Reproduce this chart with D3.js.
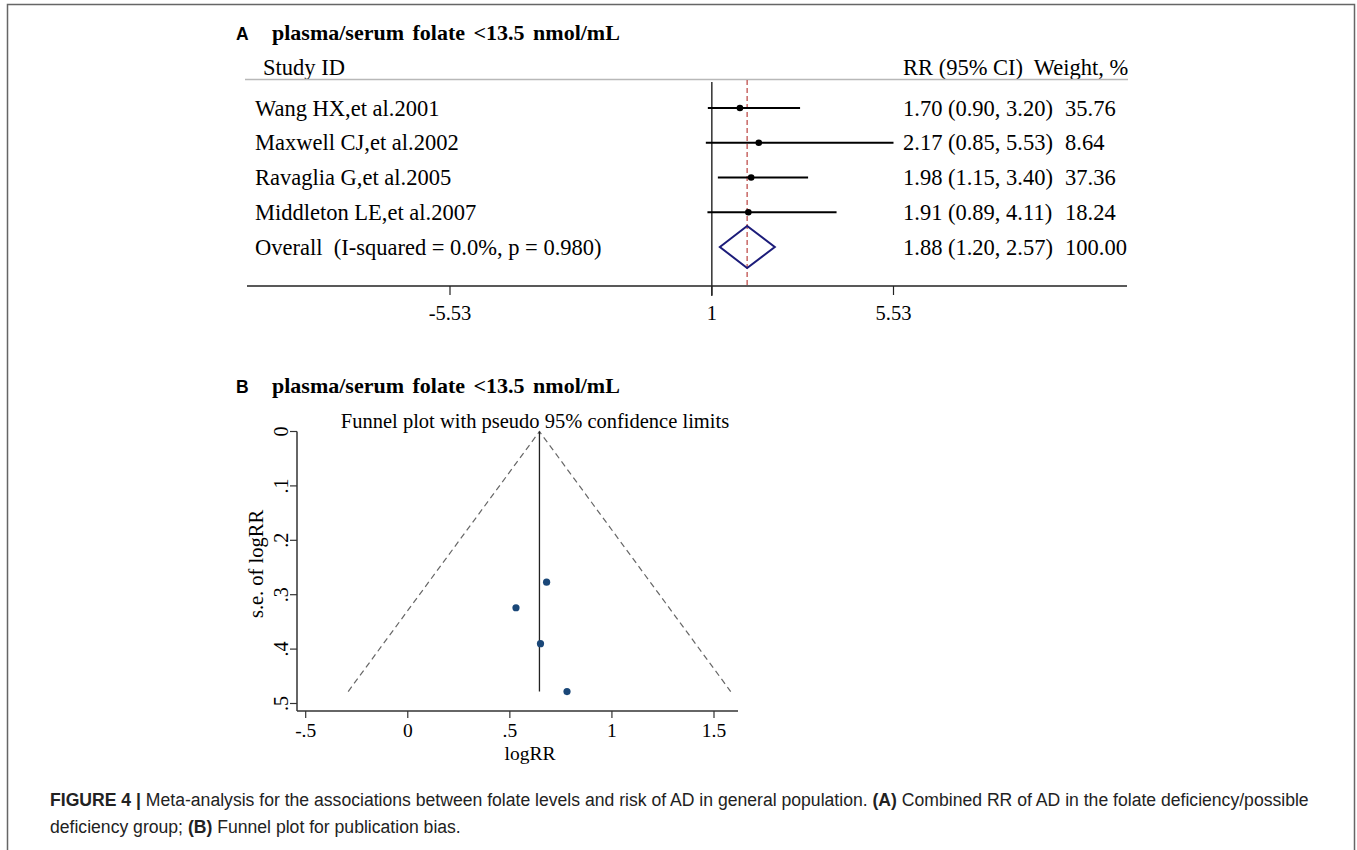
<!DOCTYPE html>
<html>
<head>
<meta charset="utf-8">
<script src="https://cdn.jsdelivr.net/npm/d3@7"></script>
<style>
  body { margin: 0; background: #fff; }
  svg text { white-space: pre; }
</style>
</head>
<body>
<script>
const width = 1357;
const height = 850;

const serif = "'Liberation Serif', 'Times New Roman', serif";
const sans = "'Liberation Sans', Arial, sans-serif";

// panel A: forest plot
const studies = ["Wang HX,et al.2001", "Maxwell CJ,et al.2002", "Ravaglia G,et al.2005", "Middleton LE,et al.2007"];
const rr = [1.70, 2.17, 1.98, 1.91];
const ciLow = [0.90, 0.85, 1.15, 0.89];
const ciHigh = [3.20, 5.53, 3.40, 4.11];
const weights = ["35.76", "8.64", "37.36", "18.24"];
const overallLabel = "Overall  (I-squared = 0.0%, p = 0.980)";
const overallRR = [1.88, 1.20, 2.57]; // estimate, low, high
const overallWeight = "100.00";
const forestTicks = [-5.53, 1, 5.53];

// panel B: funnel plot
const logRR = [0.53, 0.78, 0.68, 0.65];
const seLogRR = [0.324, 0.478, 0.277, 0.390];
const pooledLogRR = 0.645;
const funnelXTicks = [-0.5, 0, 0.5, 1, 1.5];
const funnelYTicks = [0, 0.1, 0.2, 0.3, 0.4, 0.5];

const svg = d3.select("body")
  .append("svg")
  .attr("width", width)
  .attr("height", height);

// frame
svg.append("rect")
  .attr("x", 7.5).attr("y", 4.5)
  .attr("width", 1347).attr("height", 900)
  .attr("fill", "none")
  .attr("stroke", "#666")
  .attr("stroke-width", 1.5);

// ---------- Panel A ----------
const fmt = d3.format(".2f");
const rowLabels = studies.concat([overallLabel]);
const rowY = d3.scalePoint()
  .domain(d3.range(rowLabels.length))
  .range([108, 247]);

const x = d3.scaleLinear()
  .domain([-5.53, 5.53])
  .range([450, 893.5]);

const axisLeft = 247, axisRight = 1127, axisY = 286;
const rowFont = 22.5;

svg.append("text")
  .attr("x", 236).attr("y", 40)
  .attr("font-family", sans).attr("font-weight", "bold").attr("font-size", 17.5)
  .text("A");
svg.append("text")
  .attr("x", 272).attr("y", 40)
  .attr("font-family", serif).attr("font-weight", "bold").attr("font-size", 22)
  .attr("word-spacing", 3)
  .text("plasma/serum folate <13.5 nmol/mL");

// header
svg.append("text")
  .attr("x", 263).attr("y", 75)
  .attr("font-family", serif).attr("font-size", rowFont)
  .text("Study ID");
svg.append("text")
  .attr("x", 903).attr("y", 75)
  .attr("font-family", serif).attr("font-size", rowFont)
  .text("RR (95% CI)  Weight, %");
svg.append("line")
  .attr("x1", axisLeft - 2).attr("x2", axisRight + 1)
  .attr("y1", 79.5).attr("y2", 79.5)
  .attr("stroke", "#b8b8b8").attr("stroke-width", 1.5);

// null line
svg.append("line")
  .attr("x1", x(1)).attr("x2", x(1))
  .attr("y1", 82).attr("y2", axisY + 10)
  .attr("stroke", "#111").attr("stroke-width", 1.3);

// overall dashed line
svg.append("line")
  .attr("x1", x(overallRR[0])).attr("x2", x(overallRR[0]))
  .attr("y1", 80).attr("y2", axisY)
  .attr("stroke", "#c0504d").attr("stroke-width", 1.3)
  .attr("stroke-dasharray", "5,3");

// confidence intervals
svg.selectAll(".ci")
  .data(studies)
  .enter()
  .append("line")
  .attr("class", "ci")
  .attr("x1", (d, i) => x(ciLow[i]))
  .attr("x2", (d, i) => x(ciHigh[i]))
  .attr("y1", (d, i) => rowY(i))
  .attr("y2", (d, i) => rowY(i))
  .attr("stroke", "#000")
  .attr("stroke-width", 2);

svg.selectAll(".pt")
  .data(studies)
  .enter()
  .append("circle")
  .attr("class", "pt")
  .attr("cx", (d, i) => x(rr[i]))
  .attr("cy", (d, i) => rowY(i))
  .attr("r", 3.3)
  .attr("fill", "#000");

// diamond
const dy = rowY(4);
svg.append("path")
  .attr("d", d3.line()([
    [x(overallRR[1]), dy],
    [x(overallRR[0]), dy - 21],
    [x(overallRR[2]), dy],
    [x(overallRR[0]), dy + 21]
  ]) + "Z")
  .attr("fill", "none")
  .attr("stroke", "#1c1c7a")
  .attr("stroke-width", 2);

// row labels
svg.selectAll(".rowlab")
  .data(rowLabels)
  .enter()
  .append("text")
  .attr("class", "rowlab")
  .attr("x", 255)
  .attr("y", (d, i) => rowY(i) + 7.5)
  .attr("font-family", serif).attr("font-size", rowFont)
  .text(d => d);

const rrText = rr.map((v, i) => fmt(v) + " (" + fmt(ciLow[i]) + ", " + fmt(ciHigh[i]) + ")")
  .concat([fmt(overallRR[0]) + " (" + fmt(overallRR[1]) + ", " + fmt(overallRR[2]) + ")"]);
const wText = weights.concat([overallWeight]);

svg.selectAll(".rrlab")
  .data(rrText)
  .enter()
  .append("text")
  .attr("class", "rrlab")
  .attr("x", 903)
  .attr("y", (d, i) => rowY(i) + 7.5)
  .attr("font-family", serif).attr("font-size", rowFont)
  .text(d => d);

svg.selectAll(".wlab")
  .data(wText)
  .enter()
  .append("text")
  .attr("class", "wlab")
  .attr("x", 1065)
  .attr("y", (d, i) => rowY(i) + 7.5)
  .attr("font-family", serif).attr("font-size", rowFont)
  .text(d => d);

// x axis
svg.append("line")
  .attr("x1", axisLeft).attr("x2", axisRight)
  .attr("y1", axisY).attr("y2", axisY)
  .attr("stroke", "#222").attr("stroke-width", 1.5);

svg.selectAll(".ftick")
  .data(forestTicks)
  .enter()
  .append("line")
  .attr("class", "ftick")
  .attr("x1", d => x(d)).attr("x2", d => x(d))
  .attr("y1", axisY).attr("y2", axisY + 9)
  .attr("stroke", "#222").attr("stroke-width", 1.2);

svg.selectAll(".flab")
  .data(forestTicks)
  .enter()
  .append("text")
  .attr("class", "flab")
  .attr("x", d => x(d))
  .attr("y", 320)
  .attr("text-anchor", "middle")
  .attr("font-family", serif).attr("font-size", 20.5)
  .text(d => d === 1 ? "1" : fmt(d).replace("\u2212", "-"));

// ---------- Panel B ----------
svg.append("text")
  .attr("x", 236).attr("y", 393)
  .attr("font-family", sans).attr("font-weight", "bold").attr("font-size", 17.5)
  .text("B");
svg.append("text")
  .attr("x", 272).attr("y", 393)
  .attr("font-family", serif).attr("font-weight", "bold").attr("font-size", 22)
  .attr("word-spacing", 3)
  .text("plasma/serum folate <13.5 nmol/mL");

const fx = d3.scaleLinear()
  .domain([-0.5, 1.5])
  .range([305.7, 714]);
const fy = d3.scaleLinear()
  .domain([0, 0.5])
  .range([431.5, 703.5]);

const plotLeft = 297, plotRight = 738, plotBottom = 711;

svg.append("text")
  .attr("x", 535).attr("y", 428)
  .attr("text-anchor", "middle")
  .attr("font-family", serif).attr("font-size", 20.5)
  .text("Funnel plot with pseudo 95% confidence limits");

// pseudo confidence limits
const maxSE = d3.max(seLogRR);
const dashed = svg.append("g")
  .attr("fill", "none")
  .attr("stroke", "#666")
  .attr("stroke-width", 1.2)
  .attr("stroke-dasharray", "6,4");
dashed.append("path")
  .attr("d", d3.line()([
    [fx(pooledLogRR - 1.96 * maxSE), fy(maxSE)],
    [fx(pooledLogRR), fy(0)],
    [fx(pooledLogRR + 1.96 * maxSE), fy(maxSE)]
  ]));

svg.append("line")
  .attr("x1", fx(pooledLogRR)).attr("x2", fx(pooledLogRR))
  .attr("y1", fy(0)).attr("y2", fy(maxSE))
  .attr("stroke", "#222").attr("stroke-width", 1.3);

svg.selectAll(".fpt")
  .data(logRR)
  .enter()
  .append("circle")
  .attr("class", "fpt")
  .attr("cx", d => fx(d))
  .attr("cy", (d, i) => fy(seLogRR[i]))
  .attr("r", 3.6)
  .attr("fill", "#1a4778");

// axes lines
svg.append("line")
  .attr("x1", plotLeft).attr("x2", plotRight)
  .attr("y1", plotBottom).attr("y2", plotBottom)
  .attr("stroke", "#333").attr("stroke-width", 1.5);
svg.append("line")
  .attr("x1", plotLeft).attr("x2", plotLeft)
  .attr("y1", fy(0)).attr("y2", plotBottom)
  .attr("stroke", "#333").attr("stroke-width", 1.5);

const stataFmt = d => {
  if (d === 0) return "0";
  const s = String(d);
  return s.replace(/^0\./, ".").replace(/^-0\./, "-.");
};

svg.selectAll(".xtick")
  .data(funnelXTicks)
  .enter()
  .append("line")
  .attr("class", "xtick")
  .attr("x1", d => fx(d)).attr("x2", d => fx(d))
  .attr("y1", plotBottom).attr("y2", plotBottom + 7)
  .attr("stroke", "#333").attr("stroke-width", 1.2);
svg.selectAll(".xlab")
  .data(funnelXTicks)
  .enter()
  .append("text")
  .attr("class", "xlab")
  .attr("x", d => fx(d))
  .attr("y", 737)
  .attr("text-anchor", "middle")
  .attr("font-family", serif).attr("font-size", 19.5)
  .text(stataFmt);

svg.append("text")
  .attr("x", 530).attr("y", 760)
  .attr("text-anchor", "middle")
  .attr("font-family", serif).attr("font-size", 19.5)
  .text("logRR");

svg.selectAll(".ytick")
  .data(funnelYTicks)
  .enter()
  .append("line")
  .attr("class", "ytick")
  .attr("x1", plotLeft - 7).attr("x2", plotLeft)
  .attr("y1", d => fy(d)).attr("y2", d => fy(d))
  .attr("stroke", "#333").attr("stroke-width", 1.2);
svg.selectAll(".ylab")
  .data(funnelYTicks)
  .enter()
  .append("text")
  .attr("class", "ylab")
  .attr("transform", d => "translate(288," + fy(d) + ") rotate(-90)")
  .attr("text-anchor", "middle")
  .attr("font-family", serif).attr("font-size", 20)
  .text(stataFmt);

svg.append("text")
  .attr("transform", "translate(263,564) rotate(-90)")
  .attr("text-anchor", "middle")
  .attr("font-family", serif).attr("font-size", 20.5)
  .text("s.e. of logRR");

// ---------- caption ----------
const capFont = 17.6;
const cap1 = svg.append("text")
  .attr("x", 50).attr("y", 806)
  .attr("font-family", sans).attr("font-size", capFont).attr("fill", "#222");
cap1.append("tspan").attr("font-weight", "bold").text("FIGURE 4 | ");
cap1.append("tspan").text("Meta-analysis for the associations between folate levels and risk of AD in general population. ");
cap1.append("tspan").attr("font-weight", "bold").text("(A)");
cap1.append("tspan").text(" Combined RR of AD in the folate deficiency/possible");

const cap2 = svg.append("text")
  .attr("x", 50).attr("y", 833)
  .attr("font-family", sans).attr("font-size", capFont).attr("fill", "#222");
cap2.append("tspan").text("deficiency group; ");
cap2.append("tspan").attr("font-weight", "bold").text("(B)");
cap2.append("tspan").text(" Funnel plot for publication bias.");
</script>
</body>
</html>
